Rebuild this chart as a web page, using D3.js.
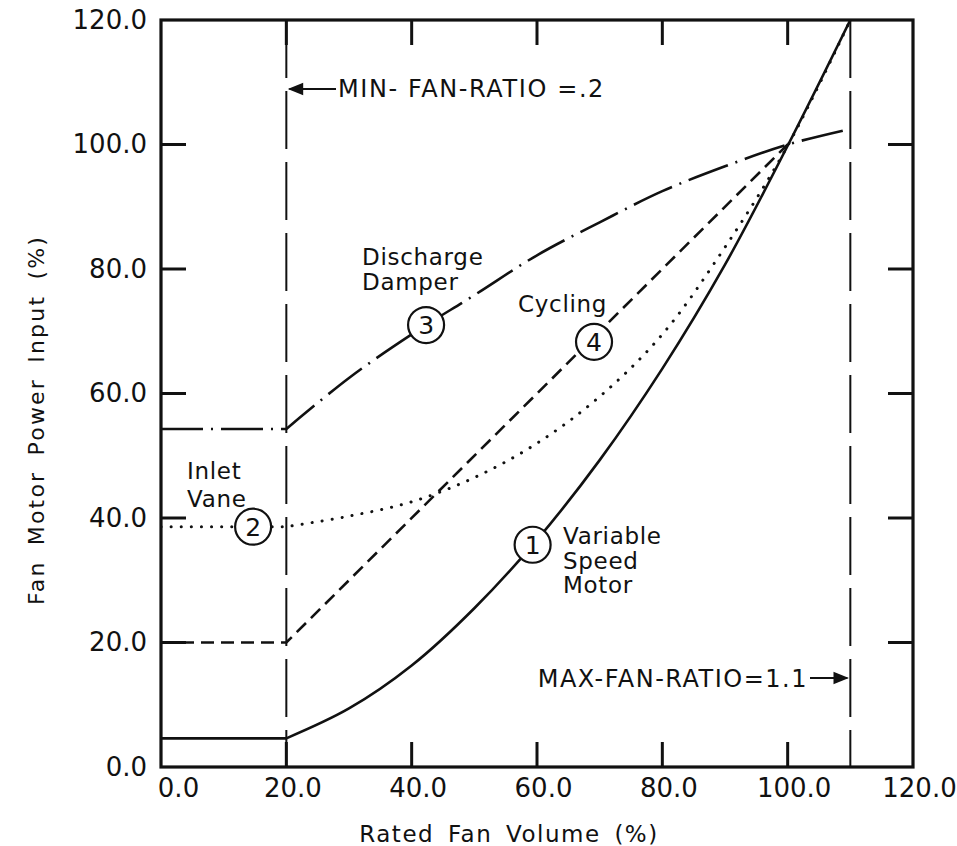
<!DOCTYPE html>
<html>
<head>
<meta charset="utf-8">
<script src="https://cdn.jsdelivr.net/npm/d3@7"></script>
<style>
  html, body { margin: 0; padding: 0; background: #fff; }
  svg { display: block; }
  text { font-family: "DejaVu Sans", sans-serif; fill: #111; }
</style>
</head>
<body>
<script>
// ---------- data ----------
const xTickValues = [0, 20, 40, 60, 80, 100, 120];
const yTickValues = [0, 20, 40, 60, 80, 100, 120];
const innerTicks = [20, 40, 60, 80, 100];
const xTickLabels = ["0.0", "20.0", "40.0", "60.0", "80.0", "100.0", "120.0"];
const yTickLabels = ["0.0", "20.0", "40.0", "60.0", "80.0", "100.0", "120.0"];

const minFlowRange = [0, 20];            // flat part below MIN-FAN-RATIO
const fanVolume = [20, 30, 40, 50, 60, 70, 80, 90, 100, 110];
const variableSpeed = [4.6, 9.4, 16.3, 25.5, 36.5, 49.3, 64.0, 80.7, 99.8, 120];
const inletVane = [38.6, 40.3, 42.6, 46.5, 52, 59.5, 69.5, 83.5, 99.8, 120];
const dischargeDamper = [54.3, 62.5, 69.5, 75.8, 82.2, 87.5, 92.5, 96.5, 100, 102.5];
const cyclingVolume = [20, 100];
const cycling = [20, 100];

const minFanRatio = 20;
const maxFanRatio = 110;

// circled curve numbers
const markerIds = ["1", "2", "3", "4"];
const markerX = [59.3, 14.7, 42.3, 69.1];
const markerY = [35.7, 38.6, 71.0, 68.3];

// ---------- layout ----------
const W = 957, H = 846;
const svg = d3.select("body").append("svg").attr("width", W).attr("height", H);

const x = d3.scaleLinear().domain([0, 120]).range([161, 913]);
const y = d3.scaleLinear().domain([0, 120]).range([767, 20]);

const defs = svg.append("defs");
defs.append("clipPath").attr("id", "plot")
  .append("rect").attr("x", x(0)).attr("y", y(120)).attr("width", x(120) - x(0)).attr("height", y(0) - y(120));

// ---------- axes ----------
const xAxis = d3.axisBottom(x).tickValues(xTickValues).tickSize(0).tickPadding(16)
  .tickFormat((d, i) => xTickLabels[i]);
const gx = svg.append("g").attr("transform", `translate(0,${y(0)})`).call(xAxis);
gx.select(".domain").remove();
gx.selectAll("text").attr("font-size", 26).attr("font-family", "DejaVu Sans").attr("fill", "#111")
  .attr("dx", (d) => d === 0 ? 17 : 6).attr("dy", "0.55em");

const yAxis = d3.axisLeft(y).tickValues(yTickValues).tickSize(0).tickPadding(14)
  .tickFormat((d, i) => yTickLabels[i]);
const gy = svg.append("g").attr("transform", `translate(${x(0)},0)`).call(yAxis);
gy.select(".domain").remove();
gy.selectAll("text").attr("font-size", 26).attr("font-family", "DejaVu Sans").attr("fill", "#111");

// inward ticks on all four sides
const tickLen = 25;
const ticks = svg.append("g").attr("stroke", "#111").attr("stroke-width", 3);
innerTicks.forEach(v => {
  ticks.append("line").attr("x1", x(0)).attr("x2", x(0) + tickLen).attr("y1", y(v)).attr("y2", y(v));
  ticks.append("line").attr("x1", x(120)).attr("x2", x(120) - tickLen).attr("y1", y(v)).attr("y2", y(v));
  ticks.append("line").attr("x1", x(v)).attr("x2", x(v)).attr("y1", y(0)).attr("y2", y(0) - tickLen);
  ticks.append("line").attr("x1", x(v)).attr("x2", x(v)).attr("y1", y(120)).attr("y2", y(120) + tickLen);
});

// frame
svg.append("rect").attr("x", x(0)).attr("y", y(120))
  .attr("width", x(120) - x(0)).attr("height", y(0) - y(120))
  .attr("fill", "none").attr("stroke", "#111").attr("stroke-width", 3.2);

// axis titles
svg.append("text").attr("x", 509).attr("y", 842)
  .attr("text-anchor", "middle").attr("font-size", 23)
  .attr("letter-spacing", 1.5).attr("word-spacing", 5)
  .text("Rated Fan Volume (%)");
svg.append("text").attr("transform", `translate(44,${420}) rotate(-90)`)
  .attr("text-anchor", "middle").attr("font-size", 22)
  .attr("letter-spacing", 2.2).attr("word-spacing", 6)
  .text("Fan Motor Power Input (%)");

// ---------- limit lines ----------
const limits = svg.append("g").attr("stroke", "#111").attr("stroke-width", 2)
  .attr("stroke-dasharray", "58,13");
[minFanRatio, maxFanRatio].forEach(v => {
  limits.append("line").attr("x1", x(v)).attr("x2", x(v)).attr("y1", y(120)).attr("y2", y(0));
});

// ---------- curves ----------
const plot = svg.append("g").attr("clip-path", "url(#plot)");

function seriesPath(xs, ys, curve) {
  const pts = xs.map((v, i) => [x(v), y(ys[i])]);
  const rising = d3.line().curve(curve)(pts);
  const flat = `M${x(minFlowRange[0])},${y(ys[0])}`;
  return flat + rising.replace(/^M/, "L");
}

const series = [
  { xs: fanVolume, ys: variableSpeed, dash: null, width: 2.6, cap: "butt" },
  { xs: fanVolume, ys: inletVane, dash: "0.1,10", width: 3, cap: "round" },
  { xs: fanVolume, ys: dischargeDamper, dash: "42,8,2,8", width: 2.6, cap: "butt" },
  { xs: cyclingVolume, ys: cycling, dash: "13,7", width: 2.6, cap: "butt" }
];
series.forEach(s => {
  plot.append("path")
    .attr("d", seriesPath(s.xs, s.ys, d3.curveCatmullRom.alpha(0.5)))
    .attr("fill", "none").attr("stroke", "#111")
    .attr("stroke-width", s.width)
    .attr("stroke-linecap", s.cap)
    .attr("stroke-dasharray", s.dash);
});

// ---------- circled numbers ----------
markerIds.forEach((id, i) => {
  const cx = x(markerX[i]), cy = y(markerY[i]);
  svg.append("circle").attr("cx", cx).attr("cy", cy).attr("r", 18)
    .attr("fill", "#fff").attr("stroke", "#111").attr("stroke-width", 2.2);
  svg.append("text").attr("x", cx).attr("y", cy).attr("dy", "0.36em")
    .attr("text-anchor", "middle").attr("font-size", 25).text(id);
});

// ---------- annotations ----------
function multiline(xp, yp, lines, lh) {
  const t = svg.append("text").attr("x", xp).attr("y", yp).attr("font-size", 23).attr("letter-spacing", 0.7);
  lines.forEach((l, i) => t.append("tspan").attr("x", xp).attr("dy", i ? lh : 0).text(l));
}
multiline(362, 265, ["Discharge", "Damper"], 25);
multiline(518, 312, ["Cycling"], 25);
multiline(187, 479, ["Inlet", "Vane"], 28);
multiline(563, 544, ["Variable", "Speed", "Motor"], 24.5);

// MIN / MAX fan ratio labels with arrows
defs.append("marker").attr("id", "ah").attr("viewBox", "0 0 10 10")
  .attr("refX", 9).attr("refY", 5).attr("markerWidth", 9).attr("markerHeight", 7)
  .attr("orient", "auto").append("path").attr("d", "M0,1 L10,5 L0,9 z").attr("fill", "#111");

svg.append("line").attr("x1", 336).attr("x2", x(minFanRatio) + 3).attr("y1", 89).attr("y2", 89)
  .attr("stroke", "#111").attr("stroke-width", 2.2).attr("marker-end", "url(#ah)");
svg.append("text").attr("x", 338).attr("y", 97).attr("font-size", 24).attr("letter-spacing", 1.6)
  .text("MIN- FAN-RATIO =.2");

svg.append("line").attr("x1", 810).attr("x2", x(maxFanRatio) - 3).attr("y1", 678).attr("y2", 678)
  .attr("stroke", "#111").attr("stroke-width", 2.2).attr("marker-end", "url(#ah)");
svg.append("text").attr("x", 808).attr("y", 687).attr("text-anchor", "end")
  .attr("font-size", 24).attr("letter-spacing", 1.5)
  .text("MAX-FAN-RATIO=1.1");
</script>
</body>
</html>
